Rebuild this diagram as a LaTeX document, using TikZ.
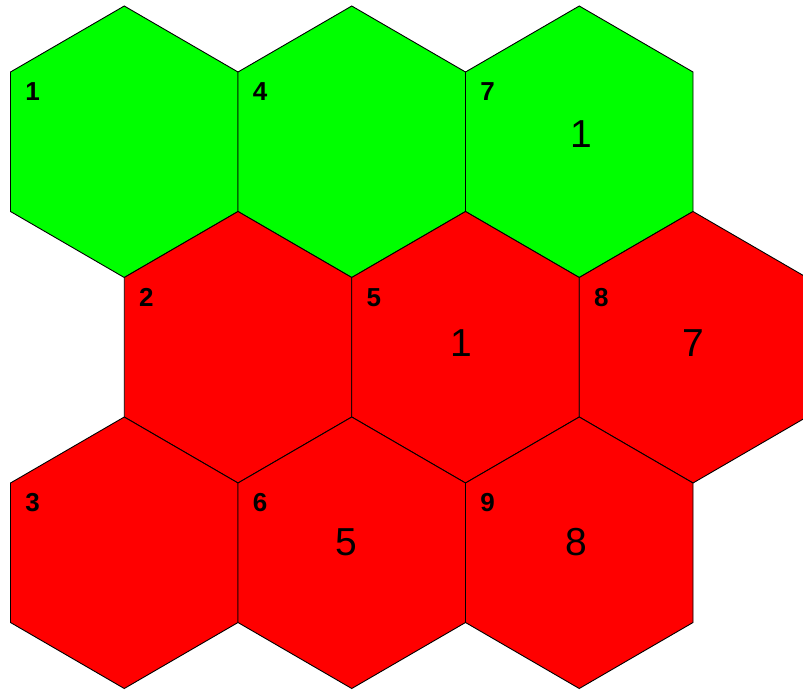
\documentclass[tikz,border=0pt]{standalone}
\usepackage{fontspec}
\setmainfont{Liberation Sans}
\definecolor{hexgreen}{RGB}{0,255,0}
\definecolor{hexred}{RGB}{255,0,0}
\begin{document}
\begin{tikzpicture}[x=1pt,y=-1pt,
  hexcell/.style={draw=black, line width=0.9pt, line join=miter},
  idlabel/.style={font=\bfseries\fontsize{26}{26}\selectfont, inner sep=0pt},
  vallabel/.style={font=\fontsize{39}{39}\selectfont, inner sep=0pt}]
\useasboundingbox (0,0) rectangle (803,691);
\clip (0,0) rectangle (803,691);
\foreach \n/\L/\T/\c in {1/10.5/6/hexgreen, 4/238/6/hexgreen, 7/465.5/6/hexgreen,
  2/124.25/211.5/hexred, 5/351.75/211.5/hexred, 8/579.25/211.5/hexred,
  3/10.5/417/hexred, 6/238/417/hexred, 9/465.5/417/hexred} {
  \draw[hexcell, fill=\c] (\L,\T+66) -- (\L+113.75,\T) -- (\L+227.5,\T+66)
    -- (\L+227.5,\T+205.5) -- (\L+113.75,\T+271.5) -- (\L,\T+205.5) -- cycle;
  \node[idlabel] (id\n) at (\L+22,\T+86) {\n};
}
\node[vallabel] (v7) at (581,134) {1};
\node[vallabel] (v5) at (461,343) {1};
\node[vallabel] (v8) at (693,343) {7};
\node[vallabel] (v6) at (346,542) {5};
\node[vallabel] (v9) at (576,542.5) {8};
\end{tikzpicture}
\end{document}
